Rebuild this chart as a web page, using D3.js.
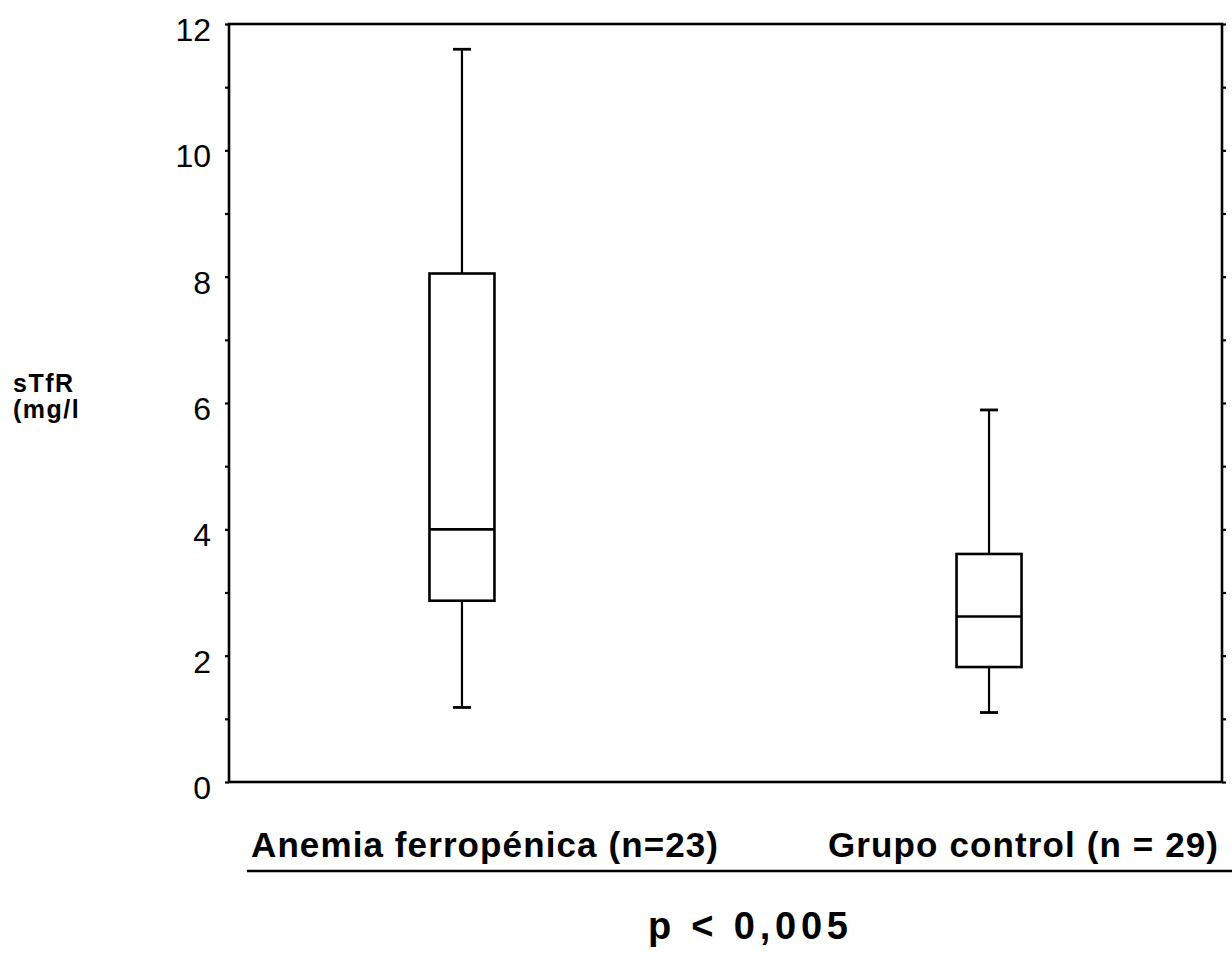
<!DOCTYPE html>
<html>
<head>
<meta charset="utf-8">
<script src="https://cdn.jsdelivr.net/npm/d3@7"></script>
<style>
  html, body { margin: 0; padding: 0; background: #fff; }
  svg { display: block; font-family: "Liberation Sans", Arial, Helvetica, sans-serif; }
</style>
</head>
<body>
<svg id="chart" width="1232" height="956"></svg>
<script>
// ---- data ----
const categories = ["Anemia ferropénica (n=23)", "Grupo control (n = 29)"];
const whiskerLow  = [1.18, 1.10];
const q1Values    = [2.87, 1.82];
const medians     = [4.00, 2.62];
const q3Values    = [8.05, 3.61];
const whiskerHigh = [11.60, 5.89];
const yTickValues = [0, 2, 4, 6, 8, 10, 12];
const yMinorTicks = [0, 1, 2, 3, 4, 5, 6, 7, 8, 9, 10, 11, 12];
const yLabelLines = ["sTfR", "(mg/l"];
const pValueText  = "p < 0,005";

// ---- layout ----
const L = 229, R = 1222, T = 24, B = 782;
const svg = d3.select("#chart");

const y = d3.scaleLinear().domain([0, 12]).range([B, T]);
const x = d3.scalePoint().domain(categories).range([L, R]).padding(0.442);

const boxes = categories.map((c, i) => ({
  cat: c, lo: whiskerLow[i], q1: q1Values[i], med: medians[i], q3: q3Values[i], hi: whiskerHigh[i]
}));

// frame
svg.append("rect").attr("x", L).attr("y", T).attr("width", R - L).attr("height", B - T)
  .attr("fill", "none").attr("stroke", "#000").attr("stroke-width", 2.6);

// left axis ticks (outward)
svg.append("g").attr("transform", `translate(${L},0)`)
  .call(d3.axisLeft(y).tickValues(yMinorTicks).tickSize(4).tickFormat(""))
  .call(g => g.select(".domain").remove())
  .call(g => g.selectAll("line").attr("stroke", "#000").attr("stroke-width", 2.2));

// left tick labels
svg.append("g").selectAll("text").data(yTickValues).join("text")
  .attr("x", 211).attr("y", d => y(d) + 17)
  .attr("text-anchor", "end")
  .attr("font-size", 32)
  .attr("fill", "#000")
  .text(d => d);

// right axis ticks (outward)
svg.append("g").attr("transform", `translate(${R},0)`)
  .call(d3.axisRight(y).tickValues(yMinorTicks).tickSize(4).tickFormat(""))
  .call(g => g.select(".domain").remove())
  .call(g => g.selectAll("line").attr("stroke", "#000").attr("stroke-width", 2.2));

// y-axis title
svg.append("g").selectAll("text").data(yLabelLines).join("text")
  .attr("x", 13).attr("y", (d, i) => 392 + i * 26)
  .attr("font-size", 25).attr("font-weight", "bold").attr("fill", "#000")
  .attr("letter-spacing", 1.5)
  .text(d => d);

// boxes
const boxW = 65, capW = 18;
const gb = svg.append("g").attr("stroke", "#000").attr("fill", "none").attr("stroke-width", 2.2);
const bx = gb.selectAll("g").data(boxes).join("g")
  .attr("transform", d => `translate(${x(d.cat)},0)`);

bx.append("line").attr("x1", 0).attr("x2", 0).attr("y1", d => y(d.q3)).attr("y2", d => y(d.hi));
bx.append("line").attr("x1", 0).attr("x2", 0).attr("y1", d => y(d.q1)).attr("y2", d => y(d.lo));
bx.append("line").attr("x1", -capW / 2).attr("x2", capW / 2).attr("y1", d => y(d.hi)).attr("y2", d => y(d.hi)).attr("stroke-width", 2.8);
bx.append("line").attr("x1", -capW / 2).attr("x2", capW / 2).attr("y1", d => y(d.lo)).attr("y2", d => y(d.lo)).attr("stroke-width", 2.8);
bx.append("rect").attr("x", -boxW / 2).attr("width", boxW)
  .attr("y", d => y(d.q3)).attr("height", d => y(d.q1) - y(d.q3))
  .attr("fill", "#fff").attr("stroke-width", 2.6);
bx.append("line").attr("x1", -boxW / 2).attr("x2", boxW / 2)
  .attr("y1", d => y(d.med)).attr("y2", d => y(d.med)).attr("stroke-width", 2.6);

// category labels
const labelSpec = [
  { anchor: "start", xpos: 251, len: 467 },
  { anchor: "end",   xpos: 1218, len: 390 }
];
svg.append("g").selectAll("text").data(categories).join("text")
  .attr("x", (d, i) => labelSpec[i].xpos)
  .attr("y", 857)
  .attr("text-anchor", (d, i) => labelSpec[i].anchor)
  .attr("font-size", 35).attr("font-weight", "bold").attr("fill", "#000")
  .attr("textLength", (d, i) => labelSpec[i].len)
  .attr("lengthAdjust", "spacing")
  .text(d => d);

// underline
svg.append("line").attr("x1", 247).attr("x2", 1232).attr("y1", 871).attr("y2", 871)
  .attr("stroke", "#000").attr("stroke-width", 2.4);

// p-value
svg.append("text").attr("x", 648).attr("y", 939)
  .attr("font-size", 38).attr("font-weight", "bold").attr("fill", "#000")
  .attr("textLength", 200).attr("lengthAdjust", "spacing")
  .text(pValueText);
</script>
</body>
</html>
